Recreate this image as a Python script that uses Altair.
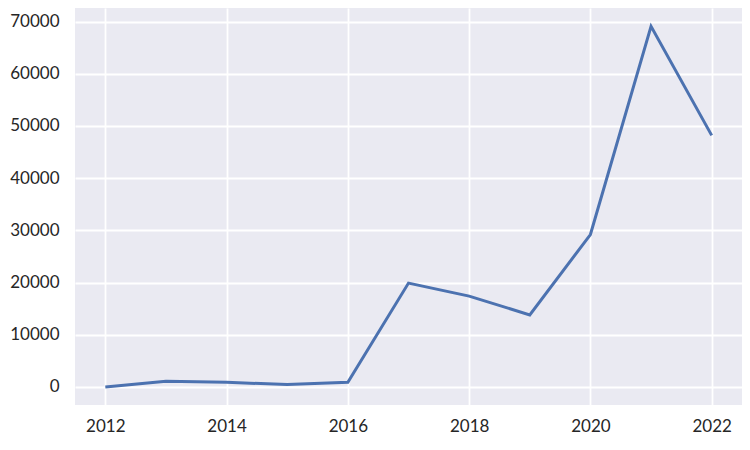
import altair as alt
import pandas as pd

years = [2012, 2013, 2014, 2015, 2016, 2017, 2018, 2019, 2020, 2021, 2022]
values = [0, 1100, 900, 450, 900, 19900, 17400, 13800, 29200, 69100, 48200]

df = pd.DataFrame({"year": years, "value": values})

chart = alt.Chart(df).mark_line(color="#4C72B0", strokeWidth=3).encode(
    x=alt.X("year:Q",
            scale=alt.Scale(domain=[2011.5, 2022.5], nice=False, zero=False),
            axis=alt.Axis(values=[2012, 2014, 2016, 2018, 2020, 2022], format="d",
                          title=None, ticks=False, domain=False, labelPadding=13,
                          labelFontSize=17, labelColor="#262626", labelFont="Lato",
                          gridColor="white", gridWidth=1.8)),
    y=alt.Y("value:Q",
            scale=alt.Scale(domain=[-3460, 72600], nice=False, zero=False),
            axis=alt.Axis(values=[0, 10000, 20000, 30000, 40000, 50000, 60000, 70000],
                          format="d", title=None, ticks=False, domain=False,
                          labelPadding=16, labelFontSize=17, labelColor="#262626",
                          labelFont="Lato", gridColor="white", gridWidth=1.8)),
).properties(
    width=667, height=397,
    autosize=alt.AutoSizeParams(type="none"),
    padding={"left": 67, "top": 0, "right": 0, "bottom": 45},
).configure_view(fill="#EAEAF2", stroke=None)

chart.save("out.html", embed_options={"renderer": "svg", "actions": False})
